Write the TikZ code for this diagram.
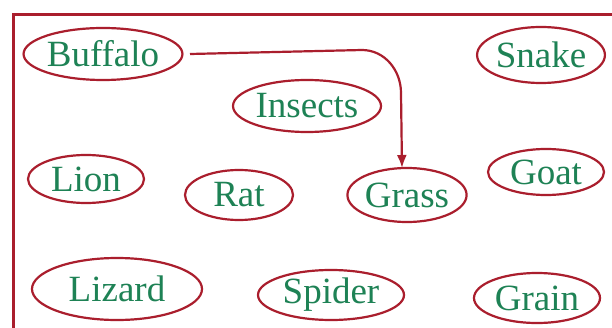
\documentclass[tikz,border=0pt]{standalone}
\usepackage{fontspec}
\setmainfont{Liberation Serif}
\usetikzlibrary{shapes.geometric,arrows.meta}
\definecolor{framered}{RGB}{170,30,45}
\definecolor{textgreen}{RGB}{30,130,85}
\begin{document}
\begin{tikzpicture}[x=1pt,y=1pt,
  animal/.style={ellipse,draw=framered,line width=2.2pt,inner sep=0pt,
    text=textgreen,font=\fontsize{37}{40}\selectfont},
  link/.style={draw=framered,line width=2.2pt,-{Latex[length=13pt,width=10pt]}}]
\useasboundingbox (0,0) rectangle (612,327);
\fill[white] (0,0) rectangle (612,327);
\clip (0,0) rectangle (612,327);
\draw[framered,line width=3pt] (13,-40) -- (13,312) -- (660,312);
\node[animal,minimum width=146pt,minimum height=52pt] (buffalo) at (103,273) {Buffalo};
\node[animal,minimum width=148pt,minimum height=52pt] (insects) at (307,221) {Insects};
\node[animal,minimum width=126pt,minimum height=56pt] (snake) at (541,272) {Snake};
\node[animal,minimum width=116pt,minimum height=48pt] (lion) at (86,148) {Lion};
\node[animal,minimum width=108pt,minimum height=50pt] (rat) at (239,132) {Rat};
\node[animal,minimum width=118pt,minimum height=54pt] (grass) at (407,132) {Grass};
\node[animal,minimum width=116pt,minimum height=46pt] (goat) at (546,155) {Goat};
\node[animal,minimum width=170pt,minimum height=62pt] (lizard) at (117,38) {Lizard};
\node[animal,minimum width=146pt,minimum height=50pt] (spider) at (331,32) {Spider};
\node[animal,minimum width=126pt,minimum height=50pt] (grain) at (537,29) {Grain};
\coordinate (start) at (190,273);
\coordinate (bend) at (362,277);
\coordinate (down) at (401,234);
\coordinate (tip) at (402,159);
\draw[link] (start) -- (bend) to[out=0,in=90] (down) -- (tip);
\end{tikzpicture}
\end{document}
